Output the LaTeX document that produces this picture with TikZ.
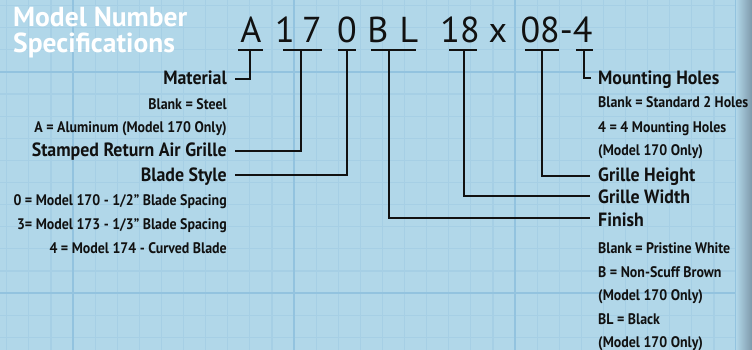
\documentclass[tikz,border=0pt]{standalone}
\usepackage{fontspec}
\setmainfont{PT Sans}
\newfontfamily\labfont[FakeStretch=0.93]{PT Sans}
\newfontfamily\subfont[FakeStretch=0.91]{PT Sans}
\usetikzlibrary{calc}
\definecolor{bgblue}{HTML}{B1D7E9}
\definecolor{gridminor}{HTML}{A6CFE5}
\definecolor{gridmajor}{HTML}{93C3DF}
\definecolor{edgeshade}{HTML}{7E99AA}
\definecolor{ink}{HTML}{111111}
\tikzset{
  x=1pt, y=-1pt,
  title/.style={font=\bfseries\fontsize{27.5}{27.5}\selectfont, text=white, inner sep=0, anchor=base west},
  codech/.style={font=\fontsize{36}{36}\selectfont, text=ink, inner sep=0, anchor=base},
  lab/.style={font=\labfont\bfseries\fontsize{19.2}{19.2}\selectfont, text=ink, inner sep=0},
  sub/.style={font=\subfont\bfseries\fontsize{15.3}{15.3}\selectfont, text=ink, inner sep=0},
  leftlab/.style={lab, anchor=base east},
  leftsub/.style={sub, anchor=base east},
  rightlab/.style={lab, anchor=base west},
  rightsub/.style={sub, anchor=base west},
  conn/.style={draw=ink, line width=1.4pt},
}
\begin{document}
\begin{tikzpicture}
% background
\fill[bgblue] (0,0) rectangle (752,350);
\useasboundingbox (0,0) rectangle (752,350);
% grid
\foreach \i in {-3,...,31} {
  \draw[gridminor, line width=1.2pt] ({73+22.1*\i},0) -- ({73+22.1*\i},350);
}
\foreach \j in {-13,...,2} {
  \draw[gridminor, line width=1.2pt] (0,{293+22.1*\j}) -- (752,{293+22.1*\j});
}
\foreach \i in {0,1,2,3} {
  \draw[gridmajor, line width=2pt] ({73+221*\i},0) -- ({73+221*\i},350);
}
\foreach \j in {72,293} {
  \draw[gridmajor, line width=2pt] (0,\j) -- (752,\j);
}
% right edge shadow
\shade[left color=bgblue, right color=edgeshade] (736,0) rectangle (752,350);

% title
\node[title] (t1) at (13,27) {Model Number};
\node[title] (t2) at (13,53) {Specifications};

% code characters
\node[codech] (cA) at (251,43) {A};
\node[codech] (c1) at (285,43) {1};
\node[codech] (c7) at (312,43) {7};
\node[codech] (c0) at (347,43) {0};
\node[codech] (cB) at (378,43) {B};
\node[codech] (cL) at (409,43) {L};
\node[codech] (c18) at (460,43) {18};
\node[codech] (cx) at (498,43) {x};
\node[codech] (c084) at (556.5,43) {08-4};

% underline / connector start coordinates
\coordinate (uA) at (250,50);
\coordinate (u17) at (301,50);
\coordinate (u0) at (347,50);
\coordinate (uBL) at (389,50);
\coordinate (u18) at (464,50);
\coordinate (u08) at (542,50);
\coordinate (u4) at (584,50);

\draw[conn] (238,50) -- (263,50);
\draw[conn] (283,50) -- (322,50);
\draw[conn] (338,50) -- (356,50);
\draw[conn] (371,50) -- (416,50);
\draw[conn] (449,50) -- (477,50);
\draw[conn] (525,50) -- (559,50);
\draw[conn] (576,50) -- (593,50);

% left labels
\node[leftlab] (mat) at (227,85) {Material};
\node[leftsub] (m1) at (227,110) {Blank = Steel};
\node[leftsub] (m2) at (227,133) {A = Aluminum (Model 170 Only)};
\node[leftlab] (srag) at (227,157) {Stamped Return Air Grille};
\node[leftlab] (bs) at (227,181) {Blade Style};
\node[leftsub] (b1) at (227,205) {0 = Model 170 - 1/2” Blade Spacing};
\node[leftsub] (b2) at (227,229) {3= Model 173 - 1/3” Blade Spacing};
\node[leftsub] (b3) at (227,253) {4 = Model 174 - Curved Blade};

% right labels
\node[rightlab] (mh) at (598,85) {Mounting Holes};
\node[rightsub] (h1) at (598,108) {Blank = Standard 2 Holes};
\node[rightsub] (h2) at (598,132) {4 = 4 Mounting Holes};
\node[rightsub] (h3) at (598,155) {(Model 170 Only)};
\node[rightlab] (gh) at (598,181) {Grille Height};
\node[rightlab] (gw) at (598,203) {Grille Width};
\node[rightlab] (fin) at (598,226) {Finish};
\node[rightsub] (f1) at (598,253) {Blank = Pristine White};
\node[rightsub] (f2) at (598,277) {B = Non-Scuff Brown};
\node[rightsub] (f3) at (598,300) {(Model 170 Only)};
\node[rightsub] (f4) at (598,324) {BL = Black};
\node[rightsub] (f5) at (598,347) {(Model 170 Only)};

% connectors
\draw[conn] (uA) |- ([xshift=8pt,yshift=6pt]mat.base east);
\draw[conn] (u17) |- ([xshift=8pt,yshift=6pt]srag.base east);
\draw[conn] (u0) |- ([xshift=8pt,yshift=6pt]bs.base east);
\draw[conn] (uBL) |- ([xshift=-8pt,yshift=8pt]fin.base west);
\draw[conn] (u18) |- ([xshift=-8pt,yshift=7pt]gw.base west);
\draw[conn] (u08) |- ([xshift=-8pt,yshift=5pt]gh.base west);
\draw[conn] (u4) |- ([xshift=-7pt,yshift=7pt]mh.base west);
\end{tikzpicture}
\end{document}
